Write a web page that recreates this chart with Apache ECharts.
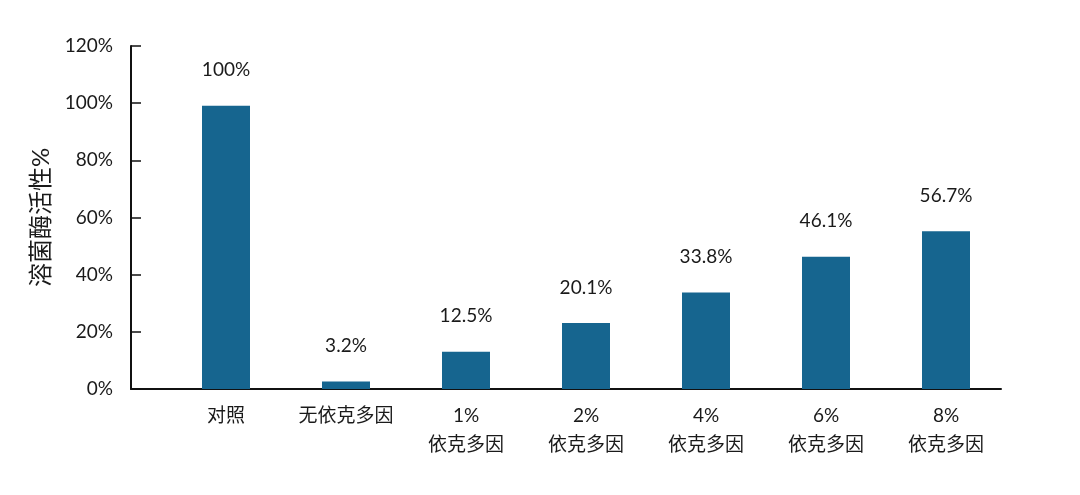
<!DOCTYPE html>
<html>
<head>
<meta charset="utf-8">
<script src="https://cdn.jsdelivr.net/npm/echarts@6/dist/echarts.min.js"></script>
<style>
  html, body { margin: 0; padding: 0; background: #fff; }
  #chart { width: 1080px; height: 495px; }
</style>
</head>
<body>
<div id="chart"></div>
<script>
const categories = ['对照', '无依克多因', '1%\n依克多因', '2%\n依克多因', '4%\n依克多因', '6%\n依克多因', '8%\n依克多因'];
const barValues = [99.1, 2.6, 13.0, 23.1, 33.8, 46.3, 55.2];
const barLabels = ['100%', '3.2%', '12.5%', '20.1%', '33.8%', '46.1%', '56.7%'];
const yMin = 0;
const yMax = 120;
const yStep = 20;

const FONT = 'Lato, "Noto Sans CJK SC", sans-serif';
const BAR_COLOR = '#16658f';

const chart = echarts.init(document.getElementById('chart'), null, { renderer: 'canvas' });

chart.setOption({
  animation: false,
  backgroundColor: '#fff',
  textStyle: { fontFamily: FONT, color: '#1a1a1a' },
  grid: [
    // frame grid: carries the axis lines and ticks
    { left: 131, right: 79, top: 46, bottom: 106 },
    // plot grid: bars sit a bit to the right like in the original
    { left: 166, right: 74, top: 46, bottom: 106 }
  ],
  xAxis: [
    {
      gridIndex: 0,
      type: 'category',
      data: categories,
      axisLine: { lineStyle: { color: '#111', width: 2 } },
      axisTick: { inside: true, length: 5, lineStyle: { color: '#111', width: 1.5 } },
      axisLabel: { show: false }
    },
    {
      gridIndex: 1,
      type: 'category',
      data: categories,
      axisLine: { show: false },
      axisTick: { show: false },
      axisLabel: {
        margin: 12,
        fontSize: 19,
        lineHeight: 29,
        color: '#1a1a1a',
        fontFamily: FONT,
        interval: 0
      }
    }
  ],
  yAxis: [
    {
      gridIndex: 0,
      type: 'value',
      min: yMin,
      max: yMax,
      interval: yStep,
      name: '溶菌酶活性%',
      nameLocation: 'middle',
      nameGap: 78,
      nameRotate: 90,
      nameTextStyle: { fontSize: 24, color: '#1a1a1a', fontFamily: FONT },
      splitLine: { show: false },
      axisLine: { show: true, lineStyle: { color: '#111', width: 2 } },
      axisTick: { show: true, inside: true, length: 10, lineStyle: { color: '#111', width: 1.5 } },
      axisLabel: {
        margin: 18,
        fontSize: 19,
        color: '#1a1a1a',
        fontFamily: FONT,
        formatter: '{value}%'
      }
    },
    {
      gridIndex: 1,
      type: 'value',
      min: yMin,
      max: yMax,
      interval: yStep,
      show: false,
      splitLine: { show: false }
    }
  ],
  series: [
    {
      type: 'bar',
      xAxisIndex: 1,
      yAxisIndex: 1,
      data: barValues,
      barWidth: 48,
      itemStyle: { color: BAR_COLOR },
      label: {
        show: true,
        position: 'top',
        distance: 26,
        fontSize: 19,
        color: '#1a1a1a',
        fontFamily: FONT,
        formatter: p => barLabels[p.dataIndex]
      }
    }
  ]
});
</script>
</body>
</html>
